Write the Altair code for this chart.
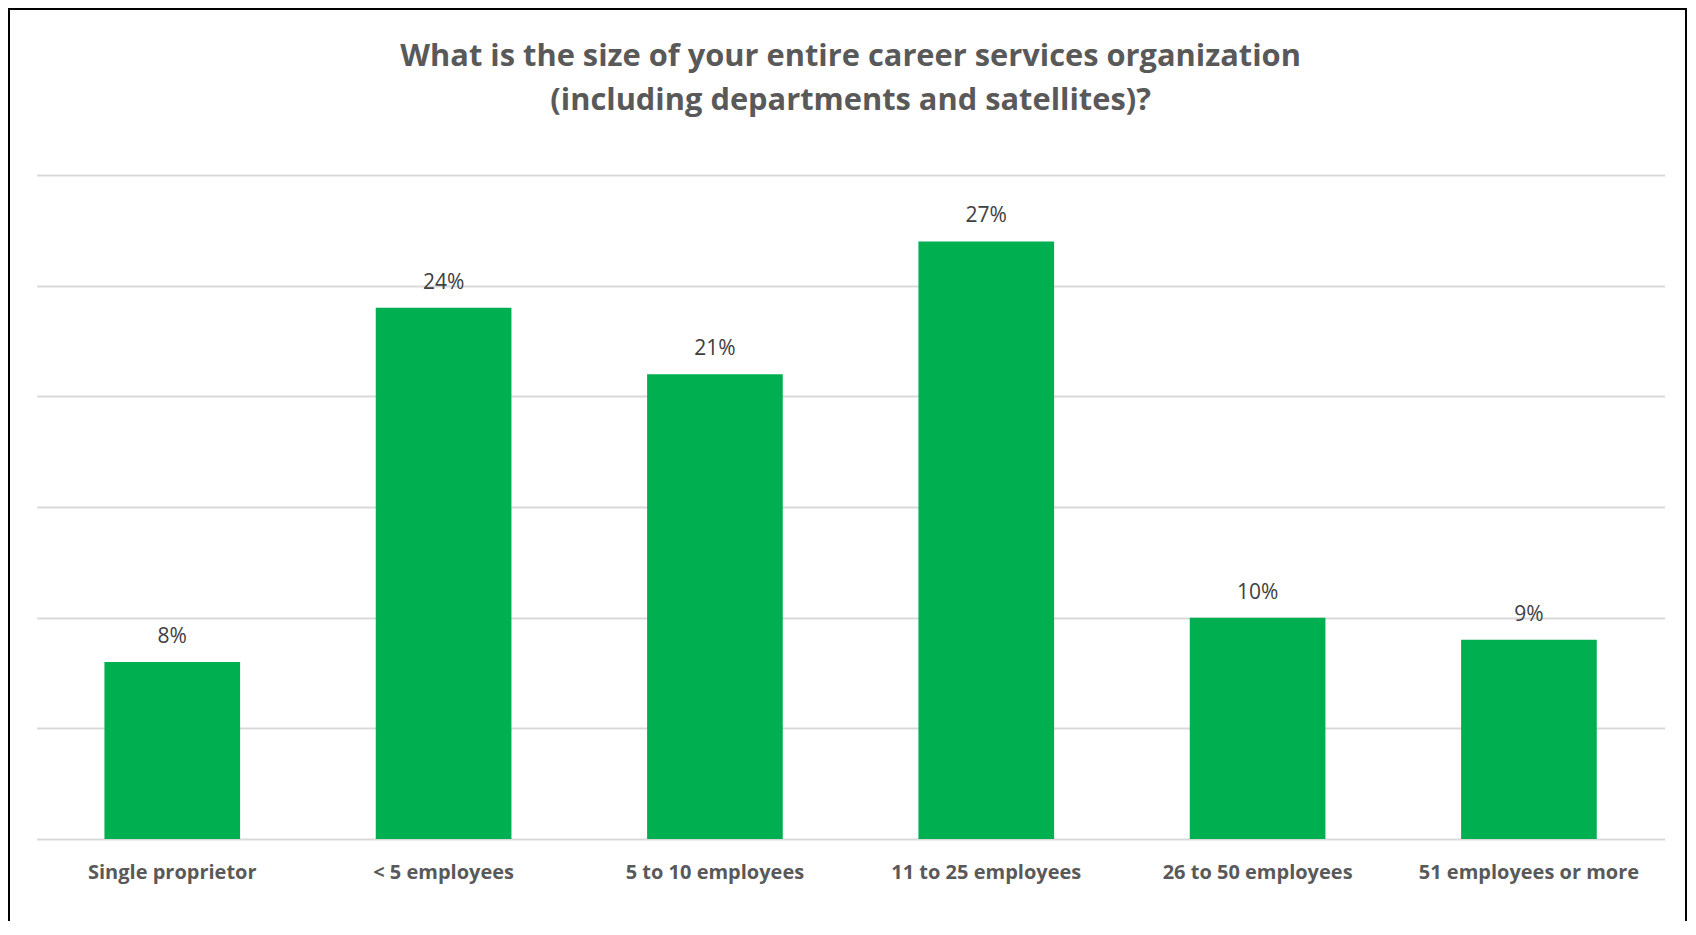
import altair as alt
import pandas as pd

CATEGORIES = [
    "Single proprietor",
    "< 5 employees",
    "5 to 10 employees",
    "11 to 25 employees",
    "26 to 50 employees",
    "51 employees or more",
]
SHARES = [0.08, 0.24, 0.21, 0.27, 0.10, 0.09]
TITLE_LINES = [
    "What is the size of your entire career services organization",
    "(including departments and satellites)?",
]
Y_TICKS = [0.0, 0.05, 0.10, 0.15, 0.20, 0.25, 0.30]

df = pd.DataFrame({"category": CATEGORIES, "share": SHARES})

W, H = 1628, 664
FONT = "Open Sans"

x = alt.X(
    "category:N",
    sort=CATEGORIES,
    scale=alt.Scale(paddingInner=0.5, paddingOuter=0.25),
    axis=alt.Axis(
        title=None, labelAngle=0, labelFont=FONT, labelFontWeight="bold",
        labelFontSize=20, labelColor="#595959", labelPadding=23,
        ticks=False, tickSize=0, domain=False, grid=False, labelLimit=400,
    ),
)
y = alt.Y(
    "share:Q",
    scale=alt.Scale(domain=[0, 0.30], nice=False, zero=True),
    axis=alt.Axis(
        title=None, labels=False, ticks=False, domain=False, grid=True,
        values=Y_TICKS, gridColor="#d9d9d9", gridWidth=2,
    ),
)

base = alt.Chart(df).encode(x=x, y=y)
bars = base.mark_bar(color="#00b050")
labels = base.mark_text(
    baseline="alphabetic", dy=-19, font=FONT, fontSize=21, color="#404040"
).encode(text=alt.Text("share:Q", format=".0%"))

frame = alt.Chart(pd.DataFrame({"k": [0]})).mark_rect(
    fill="transparent", stroke="black", strokeWidth=2
).encode(
    x=alt.value(-27.6), x2=alt.value(1649.4),
    y=alt.value(-166), y2=alt.value(H + 200),
)

chart = alt.layer(frame, bars, labels).properties(
    width=W,
    height=H,
    background="white",
    title=alt.TitleParams(
        text=TITLE_LINES, font=FONT, fontSize=30.8, fontWeight="bold",
        color="#595959", lineHeight=44, anchor="middle", frame="group",
        baseline="bottom", offset=-139,
    ),
    autosize=alt.AutoSizeParams(type="none"),
    padding={"left": 28.6, "top": 167, "right": 22.4, "bottom": 82},
).configure_view(stroke="transparent", strokeWidth=0)

chart.save("out.html", embed_options={"renderer": "svg", "actions": False})
